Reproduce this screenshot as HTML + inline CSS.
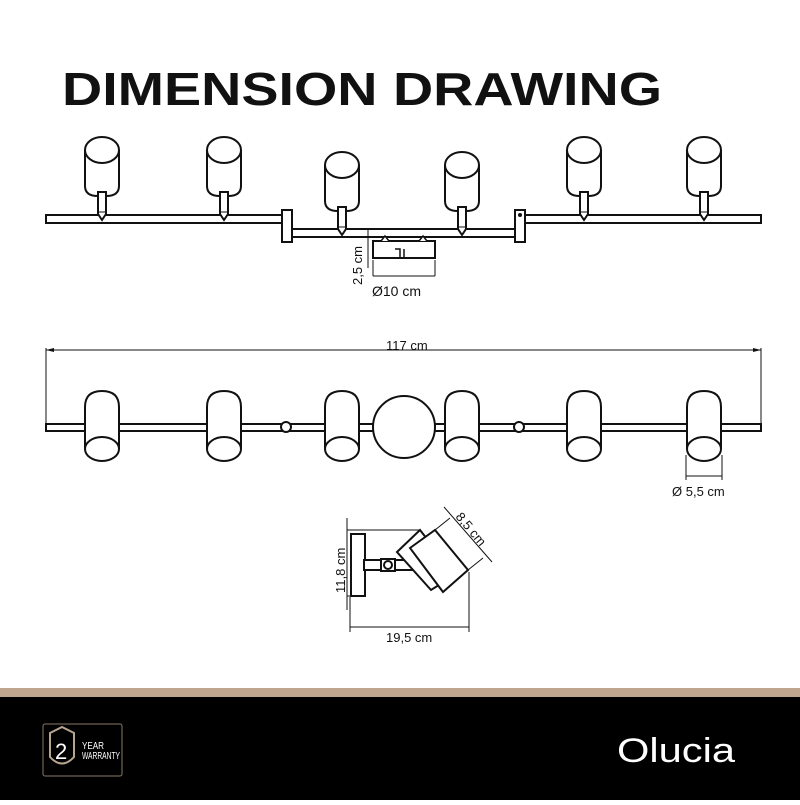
<!DOCTYPE html>
<html><head><meta charset="utf-8"><style>
body{margin:0;width:800px;height:800px;background:#fff;overflow:hidden;font-family:"Liberation Sans",sans-serif}
</style></head><body>
<svg width="800" height="800" viewBox="0 0 800 800" xmlns="http://www.w3.org/2000/svg">
<defs>
<g id="lamp" fill="#fff" stroke="#111" stroke-width="2">
<path d="M-17,0 L-17,36 Q-17,46 -4,46 M17,0 L17,36 Q17,46 4,46"/>
<ellipse cx="0" cy="0" rx="17" ry="13"/>
<path d="M-4,42 L-4,64 L0,70 L4,64 L4,42 Z"/>
<line x1="-4" y1="62" x2="4" y2="62" stroke-width="1"/>
</g>
<g id="cyl" fill="#fff" stroke="#111" stroke-width="2">
<path d="M-17,50 L-17,8 Q-17,-8 0,-8 Q17,-8 17,8 L17,50"/>
<ellipse cx="0" cy="50" rx="17" ry="12"/>
</g>
</defs>
<text x="62" y="105" font-size="46" font-weight="bold" fill="#111" textLength="600" lengthAdjust="spacingAndGlyphs">DIMENSION DRAWING</text>

<!-- top view -->
<g fill="#fff" stroke="#111" stroke-width="2">
<rect x="46" y="215" width="236" height="8"/>
<rect x="292" y="229" width="223" height="8"/>
<rect x="525" y="215" width="236" height="8"/>
<rect x="282" y="210" width="10" height="32"/>
<rect x="515" y="210" width="10" height="32"/>
<rect x="373" y="241" width="62" height="17"/>
<path d="M381,241 l4,-5 l4,5 M419,241 l4,-5 l4,5" stroke-width="1.5"/>
</g>
<circle cx="520" cy="215" r="2" fill="#111"/>
<path d="M395,249 h5 v8 M404,257 v-8" fill="none" stroke="#111" stroke-width="1.5"/>
<use href="#lamp" x="102" y="150"/>
<use href="#lamp" x="224" y="150"/>
<use href="#lamp" x="342" y="165"/>
<use href="#lamp" x="462" y="165"/>
<use href="#lamp" x="584" y="150"/>
<use href="#lamp" x="704" y="150"/>
<g stroke="#111" stroke-width="1" fill="none">
<line x1="368" y1="229" x2="368" y2="268"/>
<line x1="373" y1="276" x2="373" y2="260"/><line x1="435" y1="276" x2="435" y2="260"/>
<line x1="373" y1="276" x2="435" y2="276"/>
</g>
<text x="362" y="285" font-size="13" fill="#111" transform="rotate(-90 362 285)">2,5 cm</text>
<text x="372" y="296" font-size="14" fill="#111">Ø10 cm</text>

<!-- second view -->
<g stroke="#111" stroke-width="1">
<line x1="46" y1="350" x2="761" y2="350"/>
<line x1="46" y1="348" x2="46" y2="425"/><line x1="761" y1="348" x2="761" y2="425"/>
</g>
<path d="M46,350 l8,-2 v4 Z M761,350 l-8,-2 v4 Z" fill="#111"/>
<text x="386" y="350" font-size="13" fill="#111">117 cm</text>
<rect x="46" y="424" width="715" height="7" fill="#fff" stroke="#111" stroke-width="2"/>
<circle cx="404" cy="427" r="31" fill="#fff" stroke="#111" stroke-width="2"/>
<circle cx="286" cy="427" r="5" fill="#fff" stroke="#111" stroke-width="2"/>
<circle cx="519" cy="427" r="5" fill="#fff" stroke="#111" stroke-width="2"/>
<use href="#cyl" x="102" y="399"/>
<use href="#cyl" x="224" y="399"/>
<use href="#cyl" x="342" y="399"/>
<use href="#cyl" x="462" y="399"/>
<use href="#cyl" x="584" y="399"/>
<use href="#cyl" x="704" y="399"/>
<g stroke="#111" stroke-width="1"><line x1="686" y1="476" x2="722" y2="476"/><line x1="686" y1="455" x2="686" y2="480"/><line x1="722" y1="455" x2="722" y2="480"/></g>
<text x="672" y="496" font-size="13" fill="#111">Ø 5,5 cm</text>

<!-- side view -->
<g stroke="#111" stroke-width="1" fill="none">
<line x1="347" y1="530" x2="420" y2="530"/>
<line x1="347" y1="596" x2="365" y2="596"/>
<line x1="347" y1="518" x2="347" y2="610"/>
<line x1="350" y1="597" x2="350" y2="632"/>
<line x1="469" y1="572" x2="469" y2="632"/>
<line x1="350" y1="627" x2="469" y2="627"/>
<line x1="444" y1="507" x2="492" y2="562"/>
<line x1="435" y1="530" x2="450" y2="518"/>
<line x1="468" y1="570" x2="483" y2="558"/>
</g>
<g fill="#fff" stroke="#111" stroke-width="2">
<rect x="351" y="534" width="14" height="62"/>
<rect x="364" y="560" width="50" height="10"/>
<rect x="381" y="559" width="14" height="12"/>
<circle cx="388" cy="565" r="4"/>
<polygon points="397,552 420,530 455,575 431,590"/>
<polygon points="410,548 435,530 468,570 443,592"/>
</g>
<text x="345" y="593" font-size="13" fill="#111" transform="rotate(-90 345 593)">11,8 cm</text>
<text x="455" y="517" font-size="13" fill="#111" transform="rotate(50 455 517)">8,5 cm</text>
<text x="386" y="642" font-size="13" fill="#111">19,5 cm</text>

<!-- footer -->
<rect x="0" y="688" width="800" height="10" fill="#c0a58e"/>
<rect x="0" y="697" width="800" height="103" fill="#000"/>
<rect x="43" y="724" width="79" height="52" rx="2" fill="none" stroke="#8a7868" stroke-width="1"/>
<path d="M50,733 L62,727 L74,733 L74,757 Q62,770 50,757 Z" fill="none" stroke="#b8a48f" stroke-width="2"/>
<text x="55" y="759" font-size="22" fill="#fff">2</text>
<text x="82" y="749" font-size="10" fill="#fff" textLength="22" lengthAdjust="spacingAndGlyphs">YEAR</text>
<text x="82" y="759" font-size="10" fill="#fff" textLength="38" lengthAdjust="spacingAndGlyphs">WARRANTY</text>
<text x="617" y="762" font-size="34" fill="#fff" textLength="118" lengthAdjust="spacingAndGlyphs">Olucia</text>
</svg>
</body></html>
